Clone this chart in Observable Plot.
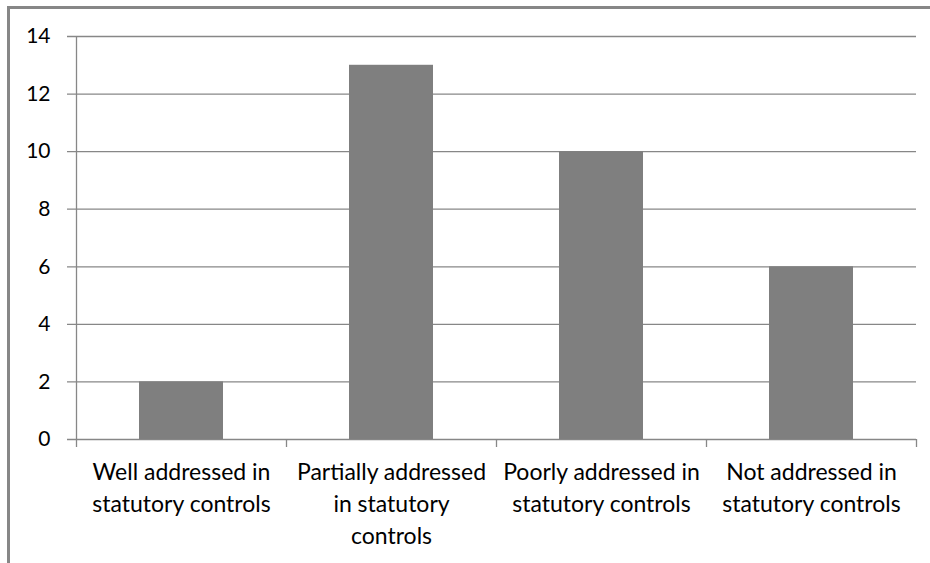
<!DOCTYPE html>
<html>
<head>
<meta charset="utf-8">
<script src="https://cdn.jsdelivr.net/npm/d3@7"></script>
<script src="https://cdn.jsdelivr.net/npm/@observablehq/plot@0.6"></script>
<style>
  html, body { margin: 0; padding: 0; background: #fff; }
  #wrap { position: relative; width: 930px; height: 563px; overflow: hidden; }
  #edge { position: absolute; left: 7px; top: 6px; right: -10px; bottom: -10px;
          border-top: 3px solid #878787; border-left: 3px solid #878787; }
  #chart { position: absolute; left: 0; top: 0; }
</style>
</head>
<body>
<div id="wrap"><div id="edge"></div><div id="chart"></div></div>
<script>
// Categories and counts
const categories = [
  "Well addressed in statutory controls",
  "Partially addressed in statutory controls",
  "Poorly addressed in statutory controls",
  "Not addressed in statutory controls"
];
const counts = [2, 13, 10, 6];
// Wrapped axis labels, one per category
const wrappedLabels = [
  "Well addressed in\nstatutory controls",
  "Partially addressed\nin statutory\ncontrols",
  "Poorly addressed in\nstatutory controls",
  "Not addressed in\nstatutory controls"
];
const yTicks = [0, 2, 4, 6, 8, 10, 12, 14];

const data = categories.map((c, i) => ({category: c, count: counts[i]}));
const labelOf = new Map(categories.map((c, i) => [c, wrappedLabels[i]]));

const W = 930, H = 563;
const mL = 76, mR = 14, mT = 36, mB = 124;
const plotW = W - mL - mR, plotH = H - mT - mB;
const step = plotW / categories.length;
const lineColor = "#878787";

const chart = Plot.plot({
  width: W,
  height: H,
  marginLeft: mL,
  marginRight: mR,
  marginTop: mT,
  marginBottom: mB,
  style: {background: "none", fontFamily: "Lato, sans-serif", color: "#000", overflow: "visible"},
  x: {domain: categories, paddingInner: 0.6, paddingOuter: 0.3},
  y: {domain: [0, 14]},
  marks: [
    // horizontal gridlines, extended left past the axis as tick marks
    Plot.ruleY(yTicks, {stroke: lineColor, strokeWidth: 1.3, insetLeft: -9}),
    // vertical value axis line, running down into the first category tick
    Plot.ruleX([categories[0]], {dx: -step / 2, stroke: lineColor, strokeWidth: 1.3, insetBottom: -8}),
    // category boundary ticks below the baseline
    Plot.ruleX(categories.slice(1), {dx: -step / 2, stroke: lineColor, strokeWidth: 1.3, insetTop: plotH, insetBottom: -8}),
    Plot.ruleX(categories.slice(-1), {dx: step / 2, stroke: lineColor, strokeWidth: 1.3, insetTop: plotH, insetBottom: -8}),
    Plot.barY(data, {x: "category", y: "count", fill: "#7f7f7f"}),
    Plot.axisY({ticks: yTicks, tickSize: 0, tickPadding: 26, fontSize: 21, label: null}),
    Plot.axisX({tickSize: 0, tickPadding: 18, fontSize: 23, lineHeight: 1.38,
                tickFormat: d => labelOf.get(d), label: null})
  ]
});
document.getElementById("chart").appendChild(chart);
</script>
</body>
</html>
